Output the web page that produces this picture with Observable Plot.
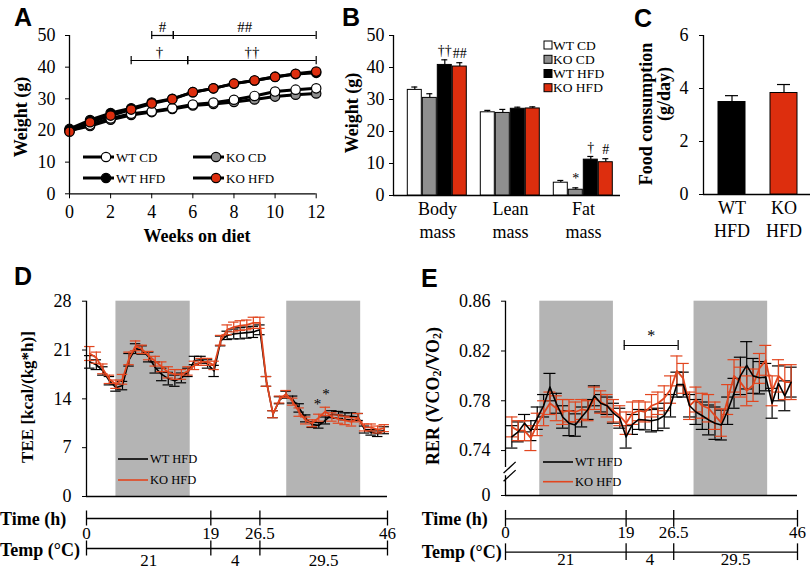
<!DOCTYPE html>
<html><head><meta charset="utf-8">
<script src="https://cdn.jsdelivr.net/npm/d3@7"></script>
<script src="https://cdn.jsdelivr.net/npm/@observablehq/plot@0.6"></script>
<style>
html,body{margin:0;padding:0;background:#fff;}
#fig{position:relative;width:810px;height:569px;overflow:hidden;background:#fff;}
</style></head>
<body><div id="fig"></div>
<script>
// ---------- Panel A data ----------
const weeks = [0,1,2,3,4,5,6,7,8,9,10,11,12];
const weekTicks = [0,2,4,6,8,10,12];
const seriesA = ["WT CD","KO CD","WT HFD","KO HFD"];
const wtCD  = [20.0,21.8,23.8,25.3,26.0,27.0,28.2,28.8,29.7,30.9,32.3,32.9,33.3];
const koCD  = [20.0,21.4,23.4,24.9,25.8,26.8,27.9,28.4,29.0,29.8,30.7,31.3,31.7];
const wtHFD = [20.5,23.3,25.5,27.0,28.8,30.0,32.1,33.3,34.8,35.8,37.0,37.8,38.2];
const koHFD = [19.6,22.6,24.7,26.6,28.5,29.9,32.1,33.3,34.8,35.8,36.9,37.9,38.6];
const wtCDerr  = [0.3,0.4,0.4,0.4,0.4,0.5,0.5,0.5,0.5,0.6,0.6,0.6,0.7];
const koCDerr  = [0.3,0.4,0.4,0.4,0.5,0.5,0.5,0.5,0.6,0.6,0.6,0.6,0.7];
const wtHFDerr = [0.3,0.5,0.6,0.7,0.8,0.8,0.9,1.0,1.0,1.1,1.2,1.2,1.3];
const koHFDerr = [0.3,0.5,0.6,0.7,0.8,0.8,0.9,1.0,1.0,1.1,1.1,1.2,1.2];
const sigA = [
  {x1:4, x2:5.05, y:50, label:"#"},
  {x1:5.05, x2:12, y:50, label:"##"},
  {x1:3, x2:5.75, y:42.1, label:"\u2020"},
  {x1:5.75, x2:12, y:42.1, label:"\u2020\u2020"}
];

// ---------- Panel B data ----------
const bGroups = ["Body mass","Lean mass","Fat mass"];
const bSeries = ["WT CD","KO CD","WT HFD","KO HFD"];
const bWtCD  = [33.0, 26.0, 4.0];
const bKoCD  = [30.5, 25.8, 1.8];
const bWtHFD = [40.8, 27.1, 11.2];
const bKoHFD = [40.3, 27.2, 10.4];
const bWtCDerr  = [0.9, 0.6, 0.7];
const bKoCDerr  = [1.3, 1.1, 0.6];
const bWtHFDerr = [1.6, 0.5, 1.0];
const bKoHFDerr = [1.2, 0.5, 1.1];
const bAnn = [
  {group:"Body mass", series:"WT HFD", label:"\u2020\u2020"},
  {group:"Body mass", series:"KO HFD", label:"##"},
  {group:"Fat mass", series:"KO CD", label:"*"},
  {group:"Fat mass", series:"WT HFD", label:"\u2020"},
  {group:"Fat mass", series:"KO HFD", label:"#"}
];

// ---------- Panel C data ----------
const cNames = ["WT HFD","KO HFD"];
const cVals = [3.49, 3.83];
const cErrs = [0.24, 0.32];
const cTicks = [0,2,4,6];

// ---------- Panel D data (TEE) ----------
const hoursD = [0.5,1.5,2.5,3.5,4.5,5.5,6.5,7.5,8.5,9.5,10.5,11.5,12.5,13.5,14.5,15.5,16.5,17.5,18.5,19.5,20.5,21.5,22.5,23.5,24.5,25.5,26.5,27.5,28.5,29.5,30.5,31.5,32.5,33.5,34.5,35.5,36.5,37.5,38.5,39.5,40.5,41.5,42.5,43.5,44.5,45.5];
const teeWT = [19.3,18.9,18.0,16.6,15.6,15.9,19.6,21.2,21.0,20.0,18.5,17.5,16.9,16.6,17.0,17.8,19.5,19.6,19.0,18.0,22.3,23.1,23.3,23.4,23.5,23.6,23.9,16.5,11.8,13.8,14.6,13.9,12.7,11.2,10.3,10.2,10.9,11.8,11.7,11.5,11.5,11.4,9.6,9.2,9.0,9.5];
const teeKO = [20.5,19.9,18.3,16.8,16.1,16.8,19.8,21.6,21.1,20.2,19.4,18.6,17.8,17.5,17.5,18.0,18.8,19.3,19.3,18.8,22.4,23.9,24.3,24.5,24.6,24.9,24.9,16.5,11.8,13.9,14.7,13.6,12.1,10.9,10.5,11.3,12.2,11.4,11.1,10.9,10.7,11.3,9.9,9.9,9.6,9.8];
const teeWTerr = [0.9,0.7,0.6,0.6,0.5,0.6,0.9,0.7,0.6,0.7,0.8,0.9,0.9,0.8,0.7,0.6,0.6,0.5,0.6,0.8,0.7,0.6,0.7,0.8,0.8,0.8,0.7,0.7,0.5,0.5,0.5,0.5,0.6,0.5,0.4,0.4,0.5,0.5,0.5,0.5,0.5,0.5,0.5,0.4,0.4,0.5];
const teeKOerr = [1.0,0.8,0.7,0.6,0.6,0.7,0.9,0.7,0.6,0.6,0.7,0.7,0.8,0.7,0.7,0.6,0.6,0.5,0.5,0.6,0.7,0.7,0.7,0.7,0.7,0.8,0.8,0.7,0.5,0.5,0.5,0.5,0.6,0.5,0.5,0.5,0.6,0.6,0.6,0.6,0.6,0.6,0.5,0.5,0.5,0.5];
const darkD = [{start:4.5, end:15.85}, {start:30.6, end:41.9}];
const starsD = [{t:35.3, v:13.3}, {t:36.6, v:14.6}];
const teeTicks = [0,7,14,21,28];

// ---------- Panel E data (RER) ----------
const hoursE = [1,2,3,4,5,6,7,8,9,10,11,12,13,14,15,16,17,18,19,20,21,22,23,24,25,26,27,28,29,30,31,32,33,34,35,36,37,38,39,40,41,42,43,44,45];
const rerWT = [0.751,0.755,0.762,0.756,0.766,0.776,0.791,0.778,0.767,0.762,0.7605,0.767,0.773,0.784,0.778,0.776,0.770,0.766,0.751,0.761,0.765,0.7646,0.764,0.765,0.768,0.776,0.793,0.793,0.776,0.771,0.768,0.7646,0.762,0.7605,0.772,0.786,0.800,0.8085,0.800,0.7985,0.799,0.778,0.794,0.784,0.795];
const rerKO = [0.759,0.756,0.756,0.750,0.761,0.770,0.778,0.774,0.771,0.772,0.771,0.773,0.772,0.782,0.779,0.776,0.772,0.768,0.762,0.770,0.772,0.771,0.776,0.778,0.782,0.789,0.804,0.798,0.776,0.781,0.776,0.774,0.768,0.7625,0.781,0.800,0.795,0.788,0.7925,0.806,0.8125,0.788,0.800,0.795,0.795];
const rerWTerr = [0.009,0.008,0.007,0.008,0.009,0.009,0.011,0.008,0.009,0.010,0.009,0.008,0.008,0.008,0.007,0.007,0.008,0.008,0.009,0.008,0.008,0.008,0.009,0.009,0.010,0.009,0.010,0.010,0.009,0.010,0.011,0.012,0.013,0.012,0.011,0.012,0.015,0.019,0.014,0.013,0.011,0.012,0.014,0.012,0.012];
const rerKOerr = [0.008,0.008,0.008,0.010,0.009,0.010,0.009,0.010,0.010,0.009,0.008,0.008,0.008,0.009,0.009,0.009,0.009,0.008,0.009,0.009,0.008,0.008,0.009,0.009,0.010,0.011,0.012,0.012,0.011,0.010,0.010,0.011,0.011,0.011,0.012,0.013,0.012,0.012,0.013,0.012,0.012,0.012,0.013,0.014,0.014];
const darkE = [{start:5.4, end:17}, {start:29.7, end:41.3}];
const sigE = [{x1:18.7, x2:27.2, y:0.8244, label:"*"}];
const rerZero = 0.7039;           // position of the "0" tick below the axis break
const rerTicks = [rerZero, 0.74, 0.78, 0.82, 0.86];
const rerBreak = [0.7198, 0.7264]; // the two slashes of the axis break

// ---------- time / temperature axes ----------
const axisRows = ["Time (h)", "Temp (\u00B0C)"];
const timeTicks = [0, 19, 26.5, 46];
const tempSegs = [{from:0, to:19, label:"21"}, {from:19, to:26.5, label:"4"}, {from:26.5, to:46, label:"29.5"}];

// ---------- drawing ----------
const W = 810, H = 569;
const FONT = "'Liberation Serif','Times New Roman',serif";
const RED = "#dd2e0e", GRAY = "#8f8f8f", SHADE = "#b4b4b4", LRED = "#e2461f";
const fig = document.getElementById("fig");

function add(opts) {
  const el = Plot.plot({width: W, height: H, ...opts,
    style: {position:"absolute", left:"0px", top:"0px", background:"transparent", overflow:"visible",
            fontFamily: FONT, fontSize: "18px", color: "black"}});
  fig.appendChild(el);
}

// Panel A
const aSets = {"WT CD":[wtCD,wtCDerr], "KO CD":[koCD,koCDerr], "WT HFD":[wtHFD,wtHFDerr], "KO HFD":[koHFD,koHFDerr]};
const aRows = [];
["KO CD","WT CD","WT HFD","KO HFD"].forEach(s => weeks.forEach((w,i) => aRows.push({series:s, week:w, w:aSets[s][0][i], e:aSets[s][1][i]})));
const sigEnds = sigA.flatMap(d => [{x:d.x1, y:d.y}, {x:d.x2, y:d.y}]);
add({
  marginLeft:69, marginRight:W-315.7, marginTop:35, marginBottom:H-193.3,
  x:{domain:[0,12], ticks:weekTicks, tickSize:5, tickPadding:6, label:null},
  y:{domain:[0,50], ticks:[0,10,20,30,40,50], tickSize:4, tickPadding:10, label:null},
  color:{domain:seriesA, range:["white", GRAY, "black", RED]},
  marks:[
    Plot.ruleY(sigA, {x1:"x1", x2:"x2", y:"y", strokeWidth:1.2}),
    Plot.ruleX(sigEnds, {x:"x", y1:d=>d.y-1.3, y2:d=>d.y+1.3, strokeWidth:1.2}),
    Plot.text(sigA, {x:d=>(d.x1+d.x2)/2, y:"y", text:"label", dy:-8, fontSize:15, fill:"black"}),
    Plot.ruleX(aRows, {x:"week", y1:d=>d.w-d.e, y2:d=>d.w+d.e, strokeWidth:1.2}),
    Plot.line(aRows, {x:"week", y:"w", z:"series", stroke:"black", strokeWidth:3}),
    Plot.dot(aRows, {x:"week", y:"w", fill:"series", r:4.7, stroke:"black", strokeWidth:1.2}),
    Plot.ruleX([0], {strokeWidth:1.3}),
    Plot.ruleY([0], {strokeWidth:1.3})
  ]
});

// Panel B axes
add({
  marginLeft:393, marginRight:W-620, marginTop:35, marginBottom:H-195,
  x:{domain:[0,1], axis:null},
  y:{domain:[0,50], ticks:[0,10,20,30,40,50], tickSize:4, tickPadding:5, label:null},
  marks:[Plot.ruleX([0], {strokeWidth:1.3}), Plot.ruleY([0], {strokeWidth:1.3})]
});
// Panel B bars
const bVals = [bWtCD, bKoCD, bWtHFD, bKoHFD], bErrs = [bWtCDerr, bKoCDerr, bWtHFDerr, bKoHFDerr];
const bRows = [];
bSeries.forEach((s,si) => bGroups.forEach((g,gi) => bRows.push({group:g, series:s, v:bVals[si][gi], e:bErrs[si][gi]})));
const bAnnRows = bAnn.map(a => {const r = bRows.find(d => d.group===a.group && d.series===a.series); return {...a, y:r.v+r.e};});
add({
  marginLeft:405.7, marginRight:W-614.6, marginTop:35, marginBottom:H-195,
  fx:{domain:bGroups, paddingInner:0.15, paddingOuter:0, axis:null, label:null},
  x:{domain:bSeries, paddingInner:0.05, paddingOuter:0, axis:null},
  y:{domain:[0,50], axis:null},
  color:{domain:bSeries, range:["white", GRAY, "black", RED]},
  marks:[
    Plot.ruleX(bRows, {fx:"group", x:"series", y1:"v", y2:d=>d.v+d.e, strokeWidth:1.2}),
    Plot.tickY(bRows, {fx:"group", x:"series", y:d=>d.v+d.e, insetLeft:4, insetRight:4, strokeWidth:1.2}),
    Plot.barY(bRows, {fx:"group", x:"series", y:"v", fill:"series", stroke:"black", strokeWidth:1}),
    Plot.text(bAnnRows, {fx:"group", x:"series", y:"y", text:"label", dy:-9, fontSize:14, fill:"black"}),
    Plot.text(bGroups, {fx:d=>d, text:d=>d.replace(" ","\n"), frameAnchor:"bottom", lineAnchor:"top", dy:4, lineHeight:1.25, fontSize:18, fill:"black"})
  ]
});

// Panel C
const cRows = cNames.map((n,i) => ({name:n, v:cVals[i], e:cErrs[i]}));
add({
  marginLeft:703, marginRight:0, marginTop:35, marginBottom:H-194,
  x:{domain:[0,1], axis:null},
  y:{domain:[0,6], ticks:cTicks, tickFormat:d=>String(d), tickSize:4, tickPadding:11, label:null},
  marks:[Plot.ruleX([0], {strokeWidth:1.3}), Plot.ruleY([0], {strokeWidth:1.3})]
});
add({
  marginLeft:718, marginRight:W-797.7, marginTop:35, marginBottom:H-194,
  x:{domain:cNames, paddingInner:0.48, paddingOuter:0, axis:null},
  y:{domain:[0,6], axis:null},
  color:{domain:cNames, range:["black", RED]},
  marks:[
    Plot.ruleX(cRows, {x:"name", y1:"v", y2:d=>d.v+d.e, strokeWidth:1.2}),
    Plot.tickY(cRows, {x:"name", y:d=>d.v+d.e, insetLeft:7, insetRight:7, strokeWidth:1.2}),
    Plot.barY(cRows, {x:"name", y:"v", fill:"name", stroke:"black", strokeWidth:1}),
    Plot.text(cNames, {x:d=>d, text:d=>d.replace(" ","\n"), frameAnchor:"bottom", lineAnchor:"top", dy:4, lineHeight:1.25, fontSize:18, fill:"black"})
  ]
});

// error-bar helpers
function rows(ts, vs, es) { return ts.map((t,i) => ({t, v:vs[i], e:es[i]})); }
function caps(rs) { return rs.flatMap(d => [{t:d.t, y:d.v-d.e}, {t:d.t, y:d.v+d.e}]); }
function errMarks(rs, color, half, sw) {
  return [
    Plot.ruleX(rs, {x:"t", y1:d=>d.v-d.e, y2:d=>d.v+d.e, stroke:color, strokeWidth:sw}),
    Plot.ruleY(caps(rs), {x1:d=>d.t-half, x2:d=>d.t+half, y:"y", stroke:color, strokeWidth:sw})
  ];
}

// Panel D
const dWT = rows(hoursD, teeWT, teeWTerr), dKO = rows(hoursD, teeKO, teeKOerr);
add({
  marginLeft:86, marginRight:W-387, marginTop:300.7, marginBottom:H-496,
  x:{domain:[0,46], axis:null},
  y:{domain:[0,28], ticks:teeTicks, tickSize:4, tickPadding:11, label:null},
  marks:[
    Plot.rect(darkD, {x1:"start", x2:"end", y1:()=>teeTicks[0], y2:()=>teeTicks[teeTicks.length-1], fill:SHADE}),
    ...errMarks(dWT, "black", 0.8, 1.2),
    Plot.line(dWT, {x:"t", y:"v", stroke:"black", strokeWidth:1.6}),
    ...errMarks(dKO, LRED, 0.8, 1.2),
    Plot.line(dKO, {x:"t", y:"v", stroke:LRED, strokeWidth:1.8}),
    Plot.text(starsD, {x:"t", y:"v", text:()=>"*", fontSize:15, fill:"black"}),
    Plot.ruleX([0], {strokeWidth:1.3}),
    Plot.ruleY([0], {strokeWidth:1.3})
  ]
});

// Panel E
const eWT = rows(hoursE, rerWT, rerWTerr), eKO = rows(hoursE, rerKO, rerKOerr);
const axisSegE = [{y1:rerZero, y2:rerBreak[0]}, {y1:rerBreak[1], y2:0.86}];
add({
  marginLeft:505, marginRight:W-797, marginTop:300.7, marginBottom:H-495,
  x:{domain:[0,46], axis:null},
  y:{domain:[rerZero,0.86], ticks:rerTicks, tickFormat:d => d===rerZero ? "0" : d.toFixed(2), tickSize:4, tickPadding:11, label:null},
  marks:[
    Plot.rect(darkE, {x1:"start", x2:"end", y1:()=>rerZero, y2:()=>0.86, fill:SHADE}),
    ...errMarks(eWT, "black", 0.95, 1.2),
    ...errMarks(eKO, LRED, 0.95, 1.2),
    Plot.line(eKO, {x:"t", y:"v", stroke:LRED, strokeWidth:1.8}),
    Plot.line(eWT, {x:"t", y:"v", stroke:"black", strokeWidth:1.6}),
    Plot.ruleY(sigE, {x1:"x1", x2:"x2", y:"y", strokeWidth:1.2}),
    Plot.ruleX(sigE.flatMap(d=>[{x:d.x1,y:d.y},{x:d.x2,y:d.y}]), {x:"x", y1:d=>d.y-0.004, y2:d=>d.y+0.004, strokeWidth:1.2}),
    Plot.text(sigE, {x:d=>(d.x1+d.x2)/2, y:"y", text:"label", dy:-10, fontSize:16, fill:"black"}),
    Plot.ruleX(axisSegE, {x:()=>0, y1:"y1", y2:"y2", strokeWidth:1.3}),
    Plot.link(rerBreak, {x1:()=>-0.3, x2:()=>1.6, y1:d=>d-0.0045, y2:d=>d+0.0045, strokeWidth:1.3}),
    Plot.ruleY([rerZero], {strokeWidth:1.3})
  ]
});

// Time / Temp axes
function timeAxis(xLeft, xRight, yTime, yTemp, labDy, segDy) {
  const step = yTemp - yTime;
  add({
    marginLeft:xLeft, marginRight:W-xRight, marginTop:yTime-step/2, marginBottom:H-(yTemp+step/2),
    x:{domain:[timeTicks[0], timeTicks[timeTicks.length-1]], axis:null},
    y:{domain:[-0.5,1.5], reverse:true, axis:null},
    marks:[
      Plot.ruleY(axisRows, {y:(d,i)=>i, x1:()=>timeTicks[0], x2:()=>timeTicks[timeTicks.length-1], strokeWidth:1.3}),
      Plot.ruleX(timeTicks, {x:d=>d, y1:()=>-0.25, y2:()=>0.25, strokeWidth:1.3}),
      Plot.ruleX(timeTicks, {x:d=>d, y1:()=>0.75, y2:()=>1.25, strokeWidth:1.3}),
      Plot.text(timeTicks, {x:d=>d, y:()=>0, dy:labDy, text:d=>String(d), fontSize:17, fill:"black"}),
      Plot.text(tempSegs, {x:d=>(d.from+d.to)/2, y:()=>1, dy:segDy, text:"label", fontSize:17, fill:"black"})
    ]
  });
}
timeAxis(86, 387, 518, 548, 15, 12);
timeAxis(505, 797, 518.3, 551.7, 14, 7);

// ---------- titles, labels, legends ----------
const svg = d3.select(fig).append("svg").attr("width", W).attr("height", H)
  .style("position","absolute").style("left","0px").style("top","0px")
  .style("font-family", FONT).style("overflow","visible");

const letters = [["A",14,26],["B",342,26],["C",634,27],["D",14,285],["E",421,287]];
svg.selectAll("text.letter").data(letters).join("text")
  .attr("x", d=>d[1]).attr("y", d=>d[2]).text(d=>d[0])
  .style("font-family","'Liberation Sans',Arial,sans-serif").style("font-weight","bold").style("font-size","25px");

function rot(txt, x, y, size) {
  return svg.append("text").attr("transform", `translate(${x},${y}) rotate(-90)`)
    .attr("text-anchor","middle").attr("dominant-baseline","central")
    .style("font-weight","bold").style("font-size", size+"px").text(txt);
}
rot("Weight (g)", 21, 117, 18);
rot("Weight (g)", 352, 113, 18);
rot("Food consumption", 646, 114, 18);
rot("(g/day)", 664, 94, 18);
rot("TEE [kcal/(kg*h)]", 27, 397, 17);
const rer = svg.append("text").attr("transform", "translate(433,396) rotate(-90)")
  .attr("text-anchor","middle").attr("dominant-baseline","central")
  .style("font-weight","bold").style("font-size","18px");
rer.append("tspan").text("RER (VCO");
rer.append("tspan").attr("dy", 4).style("font-size","12px").text("2");
rer.append("tspan").attr("dy", -4).text("/VO");
rer.append("tspan").attr("dy", 4).style("font-size","12px").text("2");
rer.append("tspan").attr("dy", -4).text(")");

svg.append("text").attr("x",197).attr("y",242).attr("text-anchor","middle")
  .style("font-weight","bold").style("font-size","18px").text("Weeks on diet");

[[0,525,556],[421.7,525,558]].forEach(([x,y1,y2]) => {
  svg.append("text").attr("x",x).attr("y",y1).style("font-weight","bold").style("font-size","18px").text(axisRows[0]);
  svg.append("text").attr("x",x).attr("y",y2).style("font-weight","bold").style("font-size","18px").text(axisRows[1]);
});

// Legend A
const colorA = {"WT CD":"white","KO CD":GRAY,"WT HFD":"black","KO HFD":RED};
seriesA.forEach((s,i) => {
  const x0 = [83,193][i%2], y = [157,178][Math.floor(i/2)];
  const g = svg.append("g");
  g.append("line").attr("x1",x0).attr("x2",x0+31).attr("y1",y).attr("y2",y).attr("stroke","black").attr("stroke-width",3);
  g.append("circle").attr("cx",x0+23).attr("cy",y).attr("r",4.7).attr("fill",colorA[s]).attr("stroke","black").attr("stroke-width",1.2);
  g.append("text").attr("x",x0+33).attr("y",y).attr("dominant-baseline","central").style("font-size","13px").text(s);
});
// Legend B
const colorB = ["white", GRAY, "black", RED];
bSeries.forEach((s,i) => {
  const y = [45,59.3,73.5,87.7][i];
  svg.append("rect").attr("x",544).attr("y",y-4).attr("width",8).attr("height",8).attr("fill",colorB[i]).attr("stroke","black").attr("stroke-width",1);
  svg.append("text").attr("x",553).attr("y",y).attr("dominant-baseline","central").style("font-size","13.5px").text(s);
});
// Legends D and E
const lineSeries = [["WT HFD","black"],["KO HFD",LRED]];
[[118,[459,480]],[543,[462,481.7]]].forEach(([x0,ys]) => {
  lineSeries.forEach(([s,c],i) => {
    svg.append("line").attr("x1",x0).attr("x2",x0+30).attr("y1",ys[i]).attr("y2",ys[i]).attr("stroke",c).attr("stroke-width",1.6);
    svg.append("text").attr("x",x0+32).attr("y",ys[i]).attr("dominant-baseline","central").style("font-size","12.5px").text(s);
  });
});
</script>
</body></html>
